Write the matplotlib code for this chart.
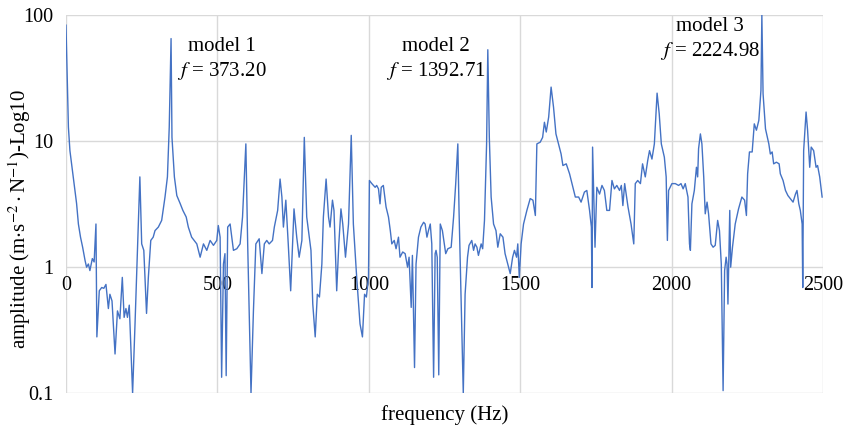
import matplotlib.pyplot as plt
from matplotlib.ticker import FixedLocator, FixedFormatter

plt.rcParams['font.family'] = ['Liberation Serif', 'DejaVu Serif']
plt.rcParams['mathtext.fontset'] = 'stix'

# frequency response, amplitude vs frequency
freq = [0, 8, 13, 30, 35, 41, 48, 55, 63, 68, 74, 79, 87, 93, 99, 102, 110, 118,
        125, 132, 140, 145, 152, 162, 170, 178, 186, 192, 198, 203, 209, 220,
        228, 236, 244, 250, 257, 266, 272, 280, 288, 294, 305, 316, 327, 335,
        341, 347, 350, 358, 366, 377, 386, 397, 404, 415, 432, 443, 454, 465,
        476, 487, 498, 503, 509, 514, 520, 525, 529, 534, 542, 553, 564, 575,
        583, 594, 600, 611, 619, 627, 638, 647, 655, 663, 671, 682, 688, 699,
        707, 713, 718, 726, 734, 742, 753, 762, 770, 779, 787, 795, 809, 815,
        823, 830, 837, 845, 850, 859, 867, 872, 880, 885, 894, 901, 908, 914,
        923, 933, 942, 949, 960, 971, 979, 986, 992, 999, 1002, 1010, 1021,
        1026, 1032, 1037, 1041, 1048, 1057, 1065, 1071, 1076, 1084, 1090, 1098,
        1103, 1112, 1120, 1128, 1133, 1140, 1144, 1151, 1156, 1164, 1172, 1181,
        1186, 1192, 1197, 1203, 1208, 1214, 1219, 1222, 1226, 1231, 1236, 1243,
        1254, 1261, 1272, 1280, 1287, 1294, 1298, 1305, 1312, 1318, 1326, 1331,
        1340, 1346, 1351, 1357, 1362, 1371, 1376, 1382, 1389, 1393, 1398, 1404,
        1412, 1420, 1426, 1434, 1443, 1450, 1459, 1467, 1475, 1481, 1488, 1492,
        1497, 1503, 1511, 1522, 1533, 1542, 1550, 1555, 1566, 1574, 1580, 1586,
        1594, 1602, 1610, 1618, 1629, 1635, 1641, 1652, 1663, 1671, 1682, 1693,
        1701, 1712, 1720, 1729, 1735, 1737, 1739, 1747, 1753, 1762, 1770, 1778,
        1786, 1795, 1803, 1811, 1819, 1828, 1834, 1839, 1845, 1856, 1866, 1875,
        1880, 1888, 1897, 1904, 1913, 1921, 1927, 1935, 1943, 1952, 1959, 1966,
        1976, 1982, 1986, 1990, 2001, 2012, 2023, 2031, 2038, 2045, 2054, 2059,
        2062, 2067, 2075, 2082, 2086, 2089, 2095, 2100, 2106, 2111, 2117, 2122,
        2130, 2137, 2144, 2152, 2158, 2164, 2170, 2175, 2180, 2183, 2186, 2192,
        2195, 2201, 2210, 2221, 2232, 2241, 2247, 2251, 2257, 2266, 2273, 2280,
        2288, 2295, 2298, 2302, 2310, 2321, 2326, 2332, 2337, 2346, 2355, 2359,
        2368, 2376, 2384, 2392, 2401, 2409, 2414, 2420, 2425, 2431, 2433, 2436,
        2444, 2449, 2456, 2461, 2469, 2477, 2482, 2489, 2497]

amp = [83, 12.9, 8.4, 3.94, 3.2, 2.2, 1.73, 1.44, 1.13, 1.0, 1.06, 0.94, 1.17,
       1.1, 2.2, 0.28, 0.65, 0.69, 0.68, 0.73, 0.47, 0.61, 0.54, 0.205, 0.45,
       0.39, 0.83, 0.40, 0.47, 0.40, 0.50, 0.1, 0.355, 1.36, 5.2, 1.53, 1.36,
       0.43, 0.83, 1.63, 1.73, 1.95, 2.08, 2.35, 3.6, 5.2, 12.9, 65, 10.7, 5.2,
       3.7, 3.2, 2.82, 2.5, 2.08, 1.73, 1.53, 1.2, 1.53, 1.36, 1.63, 1.49, 1.63,
       2.14, 1.73, 0.134, 1.06, 1.28, 0.138, 2.08, 2.2, 1.36, 1.4, 1.53, 2.5,
       9.5, 1.53, 0.1, 0.45, 1.53, 1.68, 0.89, 1.53, 1.63, 1.53, 1.63, 2.08,
       2.82, 5.0, 3.6, 2.08, 3.4, 1.53, 0.65, 2.9, 1.73, 1.2, 1.63, 10.7, 2.5,
       1.36, 0.51, 0.28, 0.61, 0.58, 1.06, 2.5, 5.0, 2.5, 2.08, 3.4, 2.82, 0.65,
       1.53, 2.9, 2.2, 1.2, 2.2, 11.1, 2.2, 0.83, 0.355, 0.28, 0.61, 0.58, 0.83,
       4.87, 4.6, 4.3, 4.45, 4.18, 3.18, 4.3, 4.45, 3.0, 2.5, 1.95, 1.53, 1.63,
       1.4, 1.73, 1.2, 1.32, 1.28, 1.0, 1.2, 0.48, 1.24, 0.16, 1.06, 1.73, 2.08,
       2.27, 2.2, 1.73, 1.95, 2.2, 1.53, 0.134, 1.28, 1.36, 1.2, 0.14, 2.2, 1.95,
       1.28, 1.4, 1.44, 2.5, 4.6, 9.5, 2.8, 0.54, 0.1, 0.61, 1.2, 1.49, 1.63,
       1.36, 1.53, 1.44, 1.24, 1.53, 1.4, 2.35, 9.5, 53, 10.7, 3.6, 2.2, 1.95,
       1.44, 1.84, 1.73, 1.28, 1.06, 0.89, 1.2, 1.36, 1.2, 1.53, 0.83, 1.53,
       2.2, 2.82, 3.5, 3.4, 2.57, 9.5, 9.8, 10.7, 14.1, 11.8, 15.5, 26.8, 18.6,
       11.4, 8.96, 7.9, 6.4, 6.6, 5.5, 4.6, 3.6, 3.6, 3.28, 3.94, 4.06, 2.82,
       2.08, 0.69, 8.96, 1.44, 4.3, 3.8, 4.45, 4.06, 2.82, 2.82, 4.87, 4.18,
       4.45, 4.06, 4.45, 3.08, 4.6, 3.0, 2.2, 1.53, 4.6, 4.87, 4.6, 6.6, 5.2,
       7.0, 8.4, 7.2, 9.5, 24, 16.5, 9.5, 7.45, 5.2, 1.63, 4.06, 4.6, 4.6, 4.45,
       4.6, 4.18, 4.6, 3.6, 1.53, 1.36, 3.18, 4.06, 6.2, 5.2, 8.7, 11.4, 9.5,
       5.2, 2.65, 3.28, 2.65, 1.53, 1.44, 1.49, 2.35, 1.95, 1.06, 0.105, 0.94,
       1.2, 1.06, 0.51, 2.82, 1.0, 1.44, 2.2, 2.9, 3.6, 3.4, 2.57, 5.5, 8.2,
       8.2, 13.7, 12.2, 14.6, 25.3, 100, 23.7, 12.5, 9.5, 7.9, 8.2, 6.6, 6.8,
       6.6, 5.5, 4.87, 4.06, 3.7, 3.5, 3.28, 3.8, 4.06, 3.18, 2.82, 2.2, 0.69,
       8.4, 17, 12.2, 6.2, 8.96, 8.4, 6.2, 6.4, 5.2, 3.6]

x_ticks = [0, 500, 1000, 1500, 2000, 2500]
y_ticks = [0.1, 1, 10, 100]
y_tick_labels = ['0.1', '1', '10', '100']

mode_names = ['model 1', 'model 2', 'model 3']
mode_freqs = ['373.20', '1392.71', '2224.98']
label_x = [515, 1222, 2128]
label_y = [44, 44, 64]

grid_col = '#d9d9d9'

fig = plt.figure(figsize=(8.47, 4.28), dpi=100)
ax = fig.add_axes([0.0779, 0.0811, 0.8938, 0.8839])

ax.plot(freq, amp, color='#4472C4', lw=1.0, zorder=3)

ax.set_yscale('log')
ax.set_xlim(0, 2500)
ax.set_ylim(0.1, 100)

ax.yaxis.set_major_locator(FixedLocator(y_ticks))
ax.yaxis.set_major_formatter(FixedFormatter(y_tick_labels))
ax.yaxis.set_minor_locator(FixedLocator([]))
ax.set_xticks(x_ticks)

ax.grid(True, color=grid_col, lw=1.0, zorder=0)
for s in ax.spines.values():
    s.set_visible(False)
# horizontal axis crosses at amplitude 1
ax.spines['bottom'].set_position(('data', 1))

ax.tick_params(axis='both', length=0, labelsize=14.5)
ax.tick_params(axis='x', pad=6)
ax.tick_params(axis='y', pad=9)

ax.set_xlabel('frequency (Hz)', fontsize=15)
ax.xaxis.set_label_coords(0.5, -0.03)
ax.set_ylabel(r'amplitude (m$\cdot$s$^{-2}\cdot$N$^{-1}$)-Log10', fontsize=15)
ax.yaxis.set_label_coords(-0.044, 0.46)

for name, f, lx, ly in zip(mode_names, mode_freqs, label_x, label_y):
    ax.text(lx, ly, name + '\n' + r'$f$ = ' + f, ha='center', va='center',
            fontsize=15, linespacing=1.25, zorder=4)

fig.savefig('out.png', dpi=100)
